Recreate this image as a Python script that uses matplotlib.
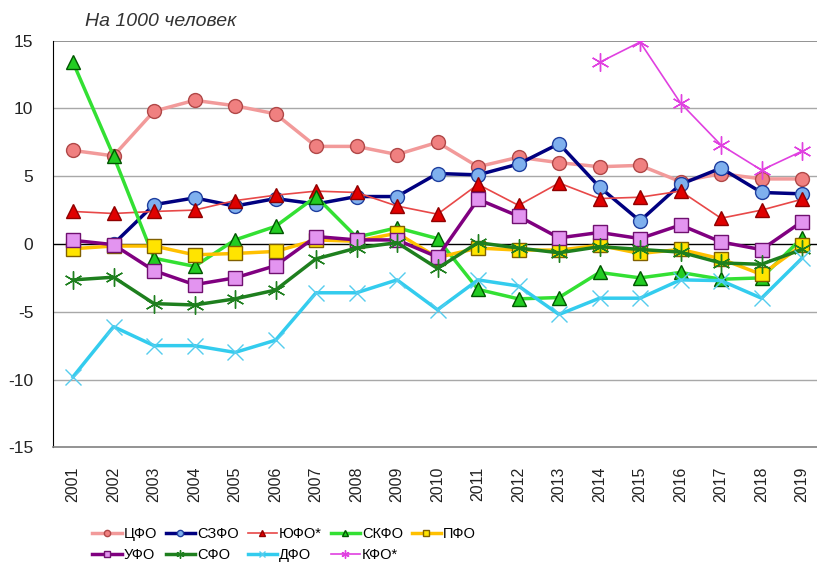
import matplotlib.pyplot as plt
import numpy as np

plt.rcParams['font.family'] = ['Liberation Sans', 'DejaVu Sans']
plt.rcParams['axes.unicode_minus'] = False

years = [str(y) for y in range(2001, 2020)]
nan = np.nan

cfo = [6.9, 6.5, 9.8, 10.6, 10.2, 9.6, 7.2, 7.2, 6.6, 7.5, 5.7, 6.4, 6.0, 5.7, 5.8, 4.6, 5.2, 4.8, 4.8]
szfo = [nan, 0.0, 2.9, 3.4, 2.8, 3.35, 2.95, 3.5, 3.5, 5.2, 5.1, 5.9, 7.4, 4.2, 1.7, 4.4, 5.6, 3.8, 3.7]
yufo = [2.4, 2.25, 2.4, 2.5, 3.2, 3.6, 3.9, 3.8, 2.8, 2.2, 4.4, 2.85, 4.5, 3.35, 3.45, 3.9, 1.9, 2.5, 3.3]
skfo = [13.4, 6.5, -1.05, -1.65, 0.3, 1.3, 3.5, 0.5, 1.2, 0.4, -3.35, -4.05, -3.95, -2.1, -2.5, -2.1, -2.6, -2.5, 0.45]
pfo = [-0.35, -0.15, -0.15, -0.8, -0.7, -0.55, 0.3, 0.2, 0.8, -1.0, -0.3, -0.45, -0.45, -0.1, -0.7, -0.4, -1.1, -2.25, -0.1]
ufo = [0.27, -0.05, -1.97, -3.0, -2.5, -1.6, 0.55, 0.3, 0.3, -0.96, 3.3, 2.05, 0.45, 0.85, 0.4, 1.4, 0.15, -0.42, 1.65]
sfo = [-2.65, -2.45, -4.4, -4.5, -4.05, -3.4, -1.1, -0.3, 0.1, -1.8, 0.1, -0.3, -0.65, -0.2, -0.4, -0.6, -1.4, -1.5, -0.4]
dfo = [-9.8, -6.1, -7.5, -7.5, -8.0, -7.1, -3.6, -3.6, -2.65, -4.85, -2.65, -3.1, -5.2, -4.0, -4.0, -2.65, -2.7, -4.0, -1.05]
kfo = [nan] * 13 + [13.4, 14.9, 10.4, 7.3, 5.45, 6.85]

x = np.arange(len(years))
asterisk = (6, 2, 0)

fig = plt.figure(figsize=(8.17, 5.73), dpi=100)
ax = fig.add_axes([0.0646, 0.2194, 0.9354, 0.7096])

# horizontal grid
for v in [10, 5, -5, -10]:
    ax.axhline(v, color='#a8a8a8', lw=1, zorder=0)
ax.axhline(15, color='#808080', lw=1.2, zorder=0)
ax.axhline(0, color='black', lw=1, zorder=1)

lines = {}
lines['ЦФО'] = ax.plot(x, cfo, color='#f29a9a', lw=2.5, marker='o', ms=10,
                      mfc='#f08080', mec='#b04848', mew=1)[0]
lines['СЗФО'] = ax.plot(x, szfo, color='#000080', lw=2.5, marker='o', ms=10,
                       mfc='#7fb0ee', mec='#1f3f9f', mew=1)[0]
lines['ЮФО*'] = ax.plot(x, yufo, color='#e84848', lw=1.2, marker='^', ms=10.5,
                       mfc='#e00000', mec='#900000', mew=1)[0]
lines['СКФО'] = ax.plot(x, skfo, color='#33e033', lw=2.5, marker='^', ms=10.5,
                       mfc='#22cc22', mec='#005500', mew=1)[0]
lines['ПФО'] = ax.plot(x, pfo, color='#ffc000', lw=2.5, marker='s', ms=9.5,
                      mfc='#ffe400', mec='#806000', mew=1)[0]
lines['УФО'] = ax.plot(x, ufo, color='#800080', lw=2.5, marker='s', ms=9.5,
                      mfc='#e394f0', mec='#701070', mew=1)[0]
lines['СФО'] = ax.plot(x, sfo, color='#1e7f1e', lw=2.5, marker=asterisk, ms=13,
                      mec='#1e7f1e', mew=1)[0]
lines['ДФО'] = ax.plot(x, dfo, color='#33ccee', lw=2.5, marker='x', ms=11,
                      mec='#55ccee', mew=1)[0]
lines['КФО*'] = ax.plot(x, kfo, color='#e040e0', lw=1.2, marker=asterisk, ms=13,
                       mec='#e040e0', mew=1)[0]

ax.set_xlim(-0.5, 18.37)
ax.set_ylim(-15, 15)
ax.set_yticks([15, 10, 5, 0, -5, -10, -15])
ax.set_yticklabels(['15', '10', '5', '0', '-5', '-10', '-15'])
ax.set_xticks(x)
ax.set_xticklabels(years, rotation=90)
ax.tick_params(axis='y', length=0, pad=14, labelsize=12.5, labelcolor='#222222')
ax.tick_params(axis='x', length=0, pad=14, labelsize=11.5, labelcolor='#222222')

for s in ['top', 'right']:
    ax.spines[s].set_visible(False)
ax.spines['left'].set_color('black')
ax.spines['bottom'].set_color('#808080')
ax.spines['bottom'].set_linewidth(1.2)

fig.text(0.104, 0.963, 'На 1000 человек', fontsize=14, style='italic',
         color='#333333', ha='left', va='center')

order = ['ЦФО', 'УФО', 'СЗФО', 'СФО', 'ЮФО*', 'ДФО', 'СКФО', 'КФО*', 'ПФО']
fig.legend([lines[k] for k in order], order, ncol=5, loc='center left',
           bbox_to_anchor=(0.097, 0.05), frameon=False, fontsize=10.5,
           markerscale=0.45, handlelength=2.0, handletextpad=0.15,
           columnspacing=0.6, labelspacing=0.45)

fig.savefig('out.png', dpi=100)
